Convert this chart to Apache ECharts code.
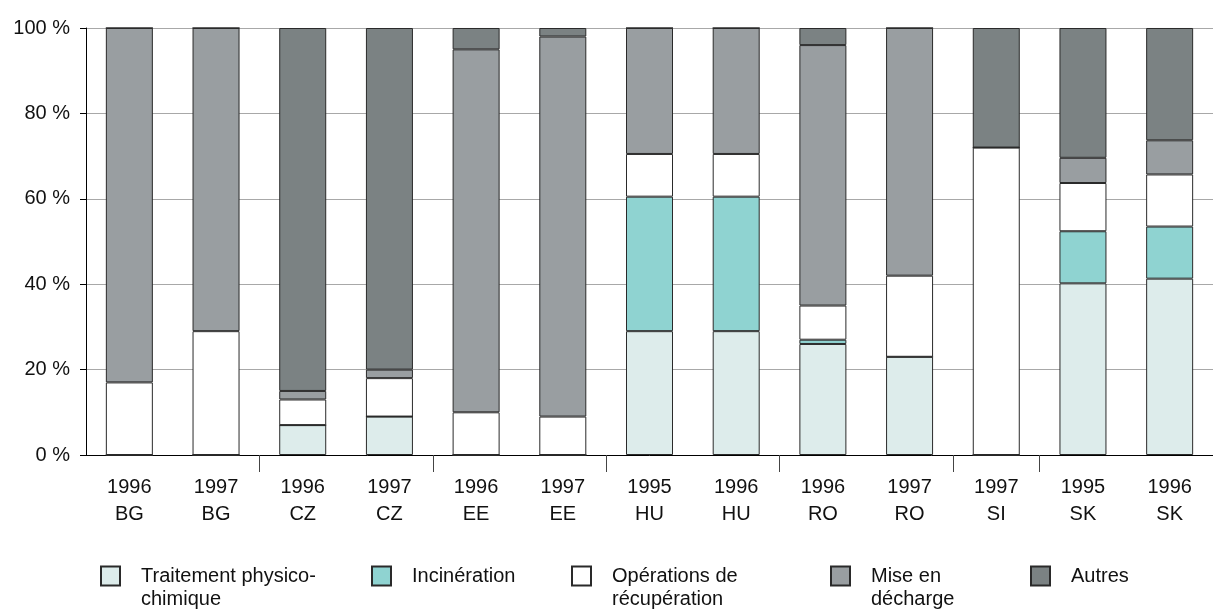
<!DOCTYPE html>
<html>
<head>
<meta charset="utf-8">
<script src="https://cdn.jsdelivr.net/npm/echarts@6/dist/echarts.min.js"></script>
<style>
  html, body { margin: 0; padding: 0; background: #fff; }
  #chart { width: 1213px; height: 613px; }
</style>
</head>
<body>
<div id="chart"></div>
<script>
// Year / country pairs along the category axis
const years = ['1996', '1997', '1996', '1997', '1996', '1997', '1995', '1996', '1996', '1997', '1997', '1995', '1996'];
const countries = ['BG', 'BG', 'CZ', 'CZ', 'EE', 'EE', 'HU', 'HU', 'RO', 'RO', 'SI', 'SK', 'SK'];

// Share of each treatment route (%)
const traitement = [0, 0, 7, 9, 0, 0, 29, 29, 26, 23, 0, 40.2, 41.3];
const incineration = [0, 0, 0, 0, 0, 0, 31.5, 31.5, 1, 0, 0, 12.2, 12.2];
const recuperation = [17, 29, 6, 9, 10, 9, 10, 10, 8, 19, 72, 11.3, 12.2];
const decharge = [83, 71, 2, 2, 85, 89, 29.5, 29.5, 61, 58, 0, 5.9, 8];
const autres = [0, 0, 85, 80, 5, 2, 0, 0, 4, 0, 28, 30.4, 26.3];

const yTicks = [0, 20, 40, 60, 80, 100];

// Category index where a new country group starts
const groupStarts = [2, 4, 6, 8, 10, 11];

const categories = years.map((y, i) => y + '\n' + countries[i]);

const FONT = 'Liberation Sans, Arial, sans-serif';
const TEXT = '#111';

const seriesDefs = [
  { name: 'Traitement physico-\nchimique', data: traitement, color: '#ddeceb' },
  { name: 'Incinération', data: incineration, color: '#8fd3d1' },
  { name: 'Opérations de\nrécupération', data: recuperation, color: '#ffffff' },
  { name: 'Mise en\ndécharge', data: decharge, color: '#999ea1' },
  { name: 'Autres', data: autres, color: '#7b8283' }
];

const legendLeft = [100, 371, 571, 830, 1030];
const legendRowCenter = 576;

const chart = echarts.init(document.getElementById('chart'), null, { renderer: 'canvas' });

chart.setOption({
  animation: false,
  backgroundColor: '#fff',
  grid: { left: 86, top: 28, width: 1133, height: 427, containLabel: false },
  legend: seriesDefs.map((s, i) => {
    const twoLines = s.name.indexOf('\n') >= 0;
    return {
      data: [s.name],
      left: legendLeft[i],
      // legend text is centred on its icon: an empty leading line keeps the
      // first line of a two-line label level with the swatch
      formatter: (name) => (twoLines ? '\n' + name : name),
      top: twoLines ? legendRowCenter - 34.5 : legendRowCenter - 11.5,
      padding: 0,
      orient: 'horizontal',
      icon: 'rect',
      itemWidth: 19,
      itemHeight: 19,
      selectedMode: false,
      textStyle: {
        fontFamily: FONT,
        fontSize: 20,
        color: TEXT,
        lineHeight: 23,
        padding: [0, 0, 0, 16]
      }
    };
  }),
  xAxis: {
    type: 'category',
    data: categories,
    boundaryGap: true,
    axisLine: { lineStyle: { color: '#000', width: 1 } },
    axisTick: {
      show: true,
      length: 17,
      interval: (index) => groupStarts.indexOf(index) >= 0,
      lineStyle: { color: '#444', width: 1 }
    },
    axisLabel: {
      interval: 0,
      margin: 19,
      fontFamily: FONT,
      fontSize: 20,
      color: TEXT,
      lineHeight: 27
    },
    splitLine: { show: false }
  },
  yAxis: {
    type: 'value',
    min: yTicks[0],
    max: yTicks[yTicks.length - 1],
    interval: 20,
    axisLine: { show: true, lineStyle: { color: '#000', width: 1 } },
    axisTick: { show: true, length: 6, lineStyle: { color: '#000' } },
    axisLabel: {
      margin: 16,
      fontFamily: FONT,
      fontSize: 20,
      color: TEXT,
      formatter: (v) => v + ' %'
    },
    splitLine: { show: true, lineStyle: { color: '#a8a8a8', width: 1 } }
  },
  series: seriesDefs.map((s) => ({
    name: s.name,
    type: 'bar',
    stack: 'total',
    barWidth: 47,
    data: s.data,
    itemStyle: { color: s.color, borderColor: '#2a2a2a', borderWidth: 1 },
    emphasis: { disabled: true }
  }))
});
</script>
</body>
</html>
